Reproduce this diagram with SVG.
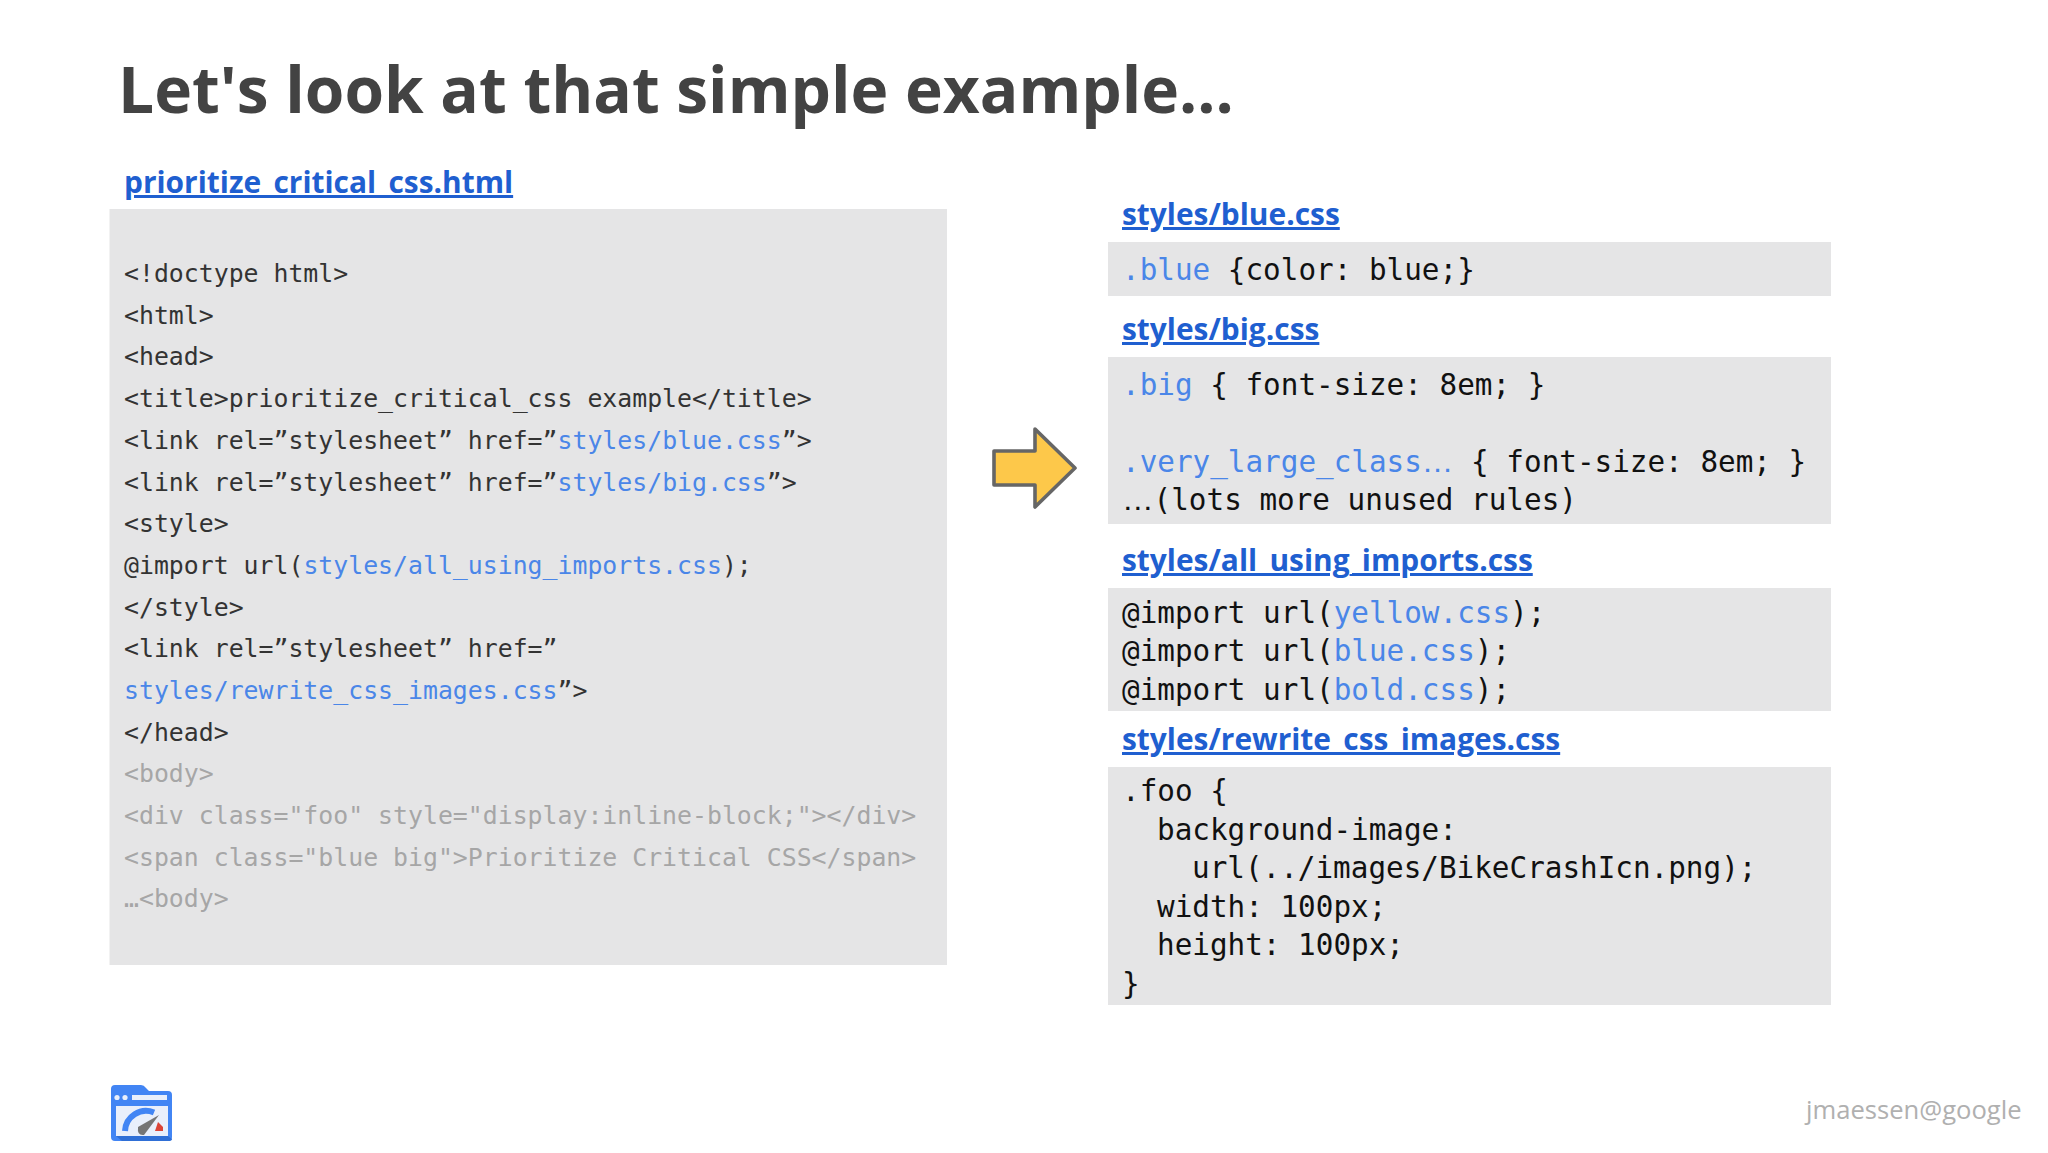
<svg xmlns="http://www.w3.org/2000/svg" width="2048" height="1153" viewBox="0 0 2048 1153">
<style>
.m{font-family:"DejaVu Sans Mono","Liberation Mono",monospace}
.l{font-size:24.84px;fill:#333}
.r{font-size:29.3px;fill:#111}
.g{fill:#a6a6a6}
.b{fill:#4a86e8}
.e{font-family:"Liberation Sans",sans-serif;font-size:31.6px}
.h{font-family:"Open Sans","Noto Sans",sans-serif;font-weight:700;font-size:29.9px;fill:#1f5fd0;text-decoration:underline;text-decoration-skip-ink:none}
.box{fill:#e5e5e6}
</style>
<rect width="2048" height="1153" fill="#fff"/>
<text id="title" x="118" y="113" font-family="'Open Sans','Noto Sans',sans-serif" font-weight="700" font-size="64px" fill="#434343">Let's look at that simple example...</text>
<g id="html-file">
<text class="h" x="124" y="193">prioritize_critical_css.html</text>
<rect class="box" x="109.500" y="209" width="837.500" height="756"/>
<g class="m l">
<text x="124" y="282">&lt;!doctype html&gt;</text>
<text x="124" y="324">&lt;html&gt;</text>
<text x="124" y="365">&lt;head&gt;</text>
<text x="124" y="407">&lt;title&gt;prioritize_critical_css example&lt;/title&gt;</text>
<text x="124" y="449">&lt;link rel=”stylesheet” href=”<tspan class="b">styles/blue.css</tspan>”&gt;</text>
<text x="124" y="491">&lt;link rel=”stylesheet” href=”<tspan class="b">styles/big.css</tspan>”&gt;</text>
<text x="124" y="532">&lt;style&gt;</text>
<text x="124" y="574">@import url(<tspan class="b">styles/all_using_imports.css</tspan>);</text>
<text x="124" y="616">&lt;/style&gt;</text>
<text x="124" y="657">&lt;link rel=”stylesheet” href=”</text>
<text x="124" y="699"><tspan class="b">styles/rewrite_css_images.css</tspan>”&gt;</text>
<text x="124" y="741">&lt;/head&gt;</text>
<text class="g" x="124" y="782">&lt;body&gt;</text>
<text class="g" x="124" y="824">&lt;div class="foo" style="display:inline-block;"&gt;&lt;/div&gt;</text>
<text class="g" x="124" y="866">&lt;span class="blue big"&gt;Prioritize Critical CSS&lt;/span&gt;</text>
<text class="g" x="124" y="907">…&lt;body&gt;</text>
</g>
</g>
<g id="arrow"><path d="M994 451H1035V429L1075 468L1035 507V485H994Z" fill="#fdc84a" stroke="#666" stroke-width="3.600" stroke-linejoin="round"/></g>
<g id="blue-css">
<text class="h" x="1122" y="225">styles/blue.css</text>
<rect class="box" x="1108" y="242" width="723" height="54"/>
<text class="m r" x="1122" y="280"><tspan class="b">.blue</tspan> {color: blue;}</text>
</g>
<g id="big-css">
<text class="h" x="1122" y="340">styles/big.css</text>
<rect class="box" x="1108" y="357" width="723" height="167"/>
<g class="m r">
<text x="1122" y="395"><tspan class="b">.big</tspan> { font-size: 8em; }</text>
<text x="1122" y="472"><tspan class="b">.very_large_class<tspan class="e">…</tspan></tspan> { font-size: 8em; }</text>
<text x="1122" y="510"><tspan class="e">…</tspan>(lots more unused rules)</text>
</g>
</g>
<g id="imports-css">
<text class="h" x="1122" y="571">styles/all_using_imports.css</text>
<rect class="box" x="1108" y="588" width="723" height="123"/>
<g class="m r">
<text x="1122" y="623">@import url(<tspan class="b">yellow.css</tspan>);</text>
<text x="1122" y="661">@import url(<tspan class="b">blue.css</tspan>);</text>
<text x="1122" y="700">@import url(<tspan class="b">bold.css</tspan>);</text>
</g>
</g>
<g id="rewrite-css">
<text class="h" x="1122" y="750">styles/rewrite_css_images.css</text>
<rect class="box" x="1108" y="767" width="723" height="238"/>
<g class="m r">
<text x="1122" y="801">.foo {</text>
<text x="1157" y="840">background-image:</text>
<text x="1192" y="878">url(../images/BikeCrashIcn.png);</text>
<text x="1157" y="917">width: 100px;</text>
<text x="1157" y="955">height: 100px;</text>
<text x="1122" y="994">}</text>
</g>
</g>
<g id="logo">
<path d="M111 1089q0-4 4-4h26q3 0 5 3l3 3h19q4 0 4 4v42q0 4-4 4h-53q-4 0-4-4z" fill="#4285f4"/>
<path d="M116 1136h52l4 3q0 2-4 2h-46z" fill="#2f6fd6"/>
<rect x="116" y="1106" width="52" height="30" fill="#e9effb"/>
<circle cx="117" cy="1097.500" r="2.600" fill="#e9effb"/>
<circle cx="125" cy="1097.500" r="2.600" fill="#e9effb"/>
<rect x="132" y="1095" width="35" height="5" fill="#e9effb"/>
<path d="M125 1131a21 21 0 0 1 29-18.500" fill="none" stroke="#4285f4" stroke-width="6"/>
<path d="M138 1127l21-12-15 20q-7 1-6-8z" fill="#757575"/>
<path d="M155 1131l3-9 5 5 0 4z" fill="#db4437"/>
</g>
<text id="credit" x="1806" y="1119" font-family="'Open Sans','Noto Sans',sans-serif" font-size="25.600px" fill="#b0b0b0">jmaessen@google</text>
</svg>
